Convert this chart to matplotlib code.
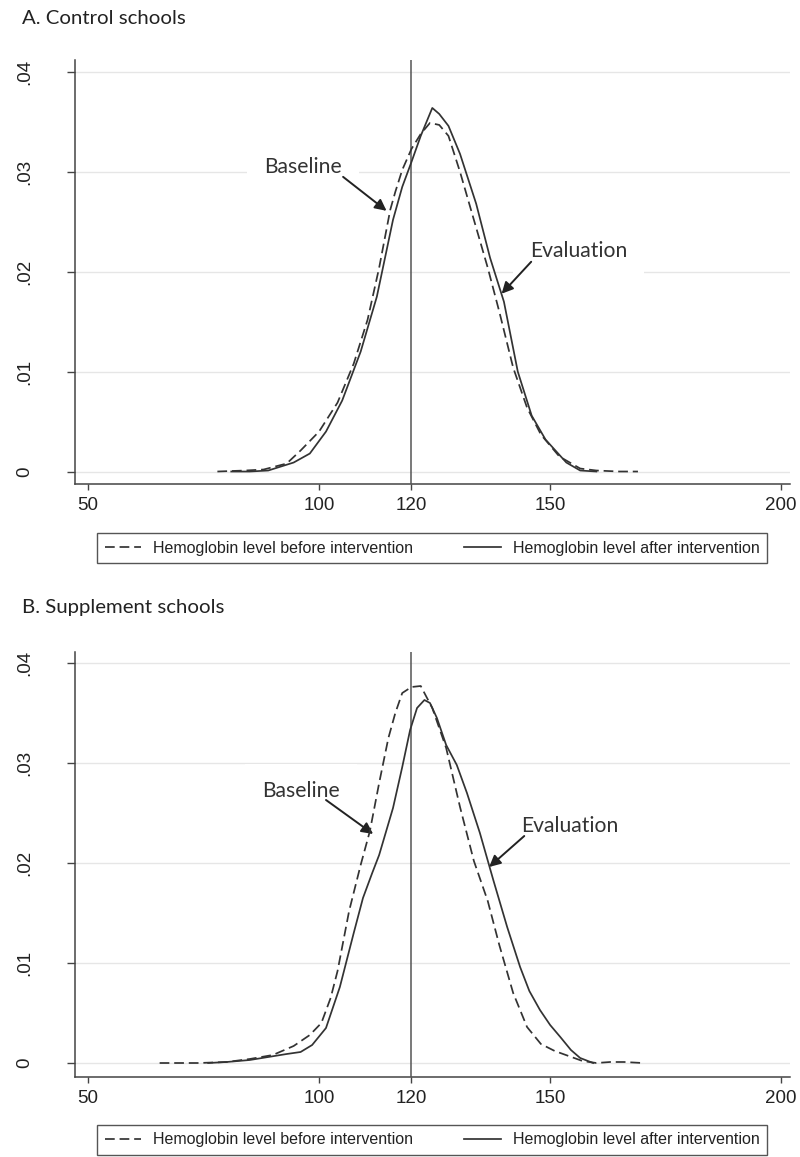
import matplotlib
matplotlib.use("Agg")
import matplotlib.pyplot as plt

plt.rcParams['lines.scale_dashes'] = False

# ---------------- data ----------------
# Panel A: Control schools
a_before_x = [78, 84, 88, 93, 96, 100, 104, 107.5, 110.5, 113, 115.4, 116.5, 118, 120, 122, 124, 126,
              128, 130.5, 133.5, 136.5, 139, 142, 145, 148, 152, 156.5, 160, 165, 169]
a_before_y = [0.0, 0.0001, 0.0002, 0.0008, 0.0021, 0.0040, 0.0069, 0.0108, 0.0152, 0.0204, 0.0262, 0.0280,
              0.0302, 0.0323, 0.0338, 0.0349, 0.0347, 0.0336, 0.0300, 0.0252, 0.0204, 0.0160, 0.0104,
              0.0064, 0.0037, 0.0015, 0.0003, 0.0001, 0.0, 0.0]
a_after_x = [81, 85, 89, 94.5, 98, 101.5, 105, 109, 112.5, 116, 118, 120, 122, 124.5, 126, 128, 130.5,
             134, 137, 140, 143, 146, 149, 153.5, 156.5, 160]
a_after_y = [0.0, 0.0, 0.0001, 0.0009, 0.0018, 0.0040, 0.0071, 0.0120, 0.0175, 0.0252, 0.0285, 0.0310,
             0.0336, 0.0364, 0.0358, 0.0346, 0.0318, 0.0268, 0.0214, 0.0170, 0.0100, 0.0056, 0.0032,
             0.0009, 0.0001, 0.0]

# Panel B: Supplement schools
b_before_x = [65.5, 70, 74, 80, 85, 90, 94.5, 98, 100.5, 102.5, 104, 106.5, 109, 111, 113, 115, 116.5,
              118, 120, 122, 124.5, 127.5, 130.5, 133.5, 136.5, 139, 142, 145, 148, 151, 154, 157, 160,
              163, 166, 170]
b_before_y = [0.0, 0.0, 0.0, 0.0001, 0.0004, 0.0008, 0.0017, 0.0028, 0.0040, 0.0065, 0.0092, 0.0152,
              0.0198, 0.0232, 0.0280, 0.0325, 0.0350, 0.0370, 0.0376, 0.0377, 0.0355, 0.0315, 0.0256,
              0.0202, 0.0162, 0.0118, 0.0070, 0.0036, 0.0019, 0.0012, 0.0007, 0.0002, 0.0, 0.0001,
              0.0001, 0.0]
b_after_x = [76, 80, 85, 89, 93, 96, 98.5, 101.5, 104.5, 107.5, 109.5, 111.5, 113, 116, 118, 119.7,
             121.2, 122.8, 124, 125.5, 127.5, 129.8, 132, 134.8, 137.7, 140.7, 143.5, 145.5, 147.8,
             150, 152.2, 154.5, 156.5, 159.3]
b_after_y = [0.0, 0.0001, 0.0003, 0.0006, 0.0009, 0.0011, 0.0018, 0.0035, 0.0076, 0.0130, 0.0165,
             0.0190, 0.0208, 0.0255, 0.0296, 0.0333, 0.0355, 0.0363, 0.0360, 0.0345, 0.0318, 0.0298,
             0.0270, 0.0230, 0.0183, 0.0136, 0.0096, 0.0072, 0.0053, 0.0038, 0.0026, 0.0013, 0.0005,
             0.0]

x_ticks = [50, 100, 120, 150, 200]
y_ticks = [0, 0.01, 0.02, 0.03, 0.04]
y_ticklabels = ['0', '.01', '.02', '.03', '.04']
legend_labels = ['Hemoglobin level before intervention', 'Hemoglobin level after intervention']
titles = ['A. Control schools', 'B. Supplement schools']
ref_line = 120

# ---------------- figure ----------------
W, H = 800, 1157
fig = plt.figure(figsize=(W / 100, H / 100), dpi=100)

LINE_C = '#333333'
TICK_FONT = 'Liberation Sans'
TXT_FONT = 'Lato'


def setup(ax, ylim):
    ax.set_xlim(47.19, 201.9)
    ax.set_ylim(*ylim)
    for s in ['top', 'right']:
        ax.spines[s].set_visible(False)
    for s in ['left', 'bottom']:
        ax.spines[s].set_color('#444444')
        ax.spines[s].set_linewidth(1.1)
    ax.set_xticks(x_ticks)
    ax.set_xticklabels([str(t) for t in x_ticks], fontfamily=TICK_FONT, fontsize=13.5)
    ax.set_yticks(y_ticks)
    ax.set_yticklabels(y_ticklabels, fontfamily=TICK_FONT, fontsize=13.5, rotation=90,
                       va='center', ha='right')
    ax.tick_params(axis='x', length=4.5, width=1.0, color='#444444', pad=5, labelcolor='#222222')
    ax.tick_params(axis='y', length=5.8, width=1.0, color='#444444', pad=24, labelcolor='#222222')
    ax.grid(axis='y', color='#e6e6e6', lw=1.0)
    ax.set_axisbelow(True)
    ax.axvline(ref_line, color='#555555', lw=1.1, zorder=3)


def curves(ax, bx, by, axx, ayy, leg_top):
    l1, = ax.plot(bx, by, color=LINE_C, lw=1.25, dashes=(7, 3.5), zorder=4, label=legend_labels[0])
    l2, = ax.plot(axx, ayy, color=LINE_C, lw=1.25, zorder=4, label=legend_labels[1])
    leg = ax.legend(handles=[l1, l2], loc='upper left',
                    bbox_to_anchor=(0.0308, leg_top), ncol=2,
                    borderaxespad=0, frameon=True, fancybox=False, framealpha=1,
                    edgecolor='#555555', handlelength=2.3, handletextpad=0.75, borderpad=0.47,
                    columnspacing=3.2, prop={'family': TICK_FONT, 'size': 11.5})
    leg.get_frame().set_linewidth(1.0)
    for t in leg.get_texts():
        t.set_color('#222222')


def label(ax, text, pos, tail, head):
    ax.text(pos[0], pos[1], text, ha='center', va='center', fontfamily=TXT_FONT, fontsize=15.2,
            color='#333333', zorder=3,
            bbox=dict(boxstyle='square,pad=0.8', fc='white', ec='none'))
    ax.annotate('', xy=head, xytext=tail,
                arrowprops=dict(arrowstyle='-|>', color='#222222', lw=1.4, mutation_scale=17,
                                shrinkA=0, shrinkB=0), zorder=3)


# Panel A
ax1 = fig.add_axes([75 / W, 1 - 484 / H, 715 / W, 424 / H])
setup(ax1, (-0.00125, 0.0412))
curves(ax1, a_before_x, a_before_y, a_after_x, a_after_y, -0.1156)
label(ax1, 'Baseline', (96.5, 0.0305), (105.2, 0.0295), (114.6, 0.0261))
label(ax1, 'Evaluation', (156.1, 0.0221), (145.9, 0.0210), (139.5, 0.0178))

# Panel B
ax2 = fig.add_axes([75 / W, 1 - 1077 / H, 715 / W, 425 / H])
setup(ax2, (-0.0014, 0.0411))
curves(ax2, b_before_x, b_before_y, b_after_x, b_after_y, -0.1129)
label(ax2, 'Baseline', (96.1, 0.0272), (101.5, 0.0263), (111.7, 0.0229))
label(ax2, 'Evaluation', (154.3, 0.0237), (144.4, 0.0227), (136.8, 0.0196))

fig.text(22 / W, 1 - 18 / H, titles[0], ha='left', va='center', fontfamily=TXT_FONT,
         fontsize=14.7, color='#222222')
fig.text(22 / W, 1 - 607 / H, titles[1], ha='left', va='center', fontfamily=TXT_FONT,
         fontsize=14.7, color='#222222')

fig.savefig('out.png', dpi=100)
